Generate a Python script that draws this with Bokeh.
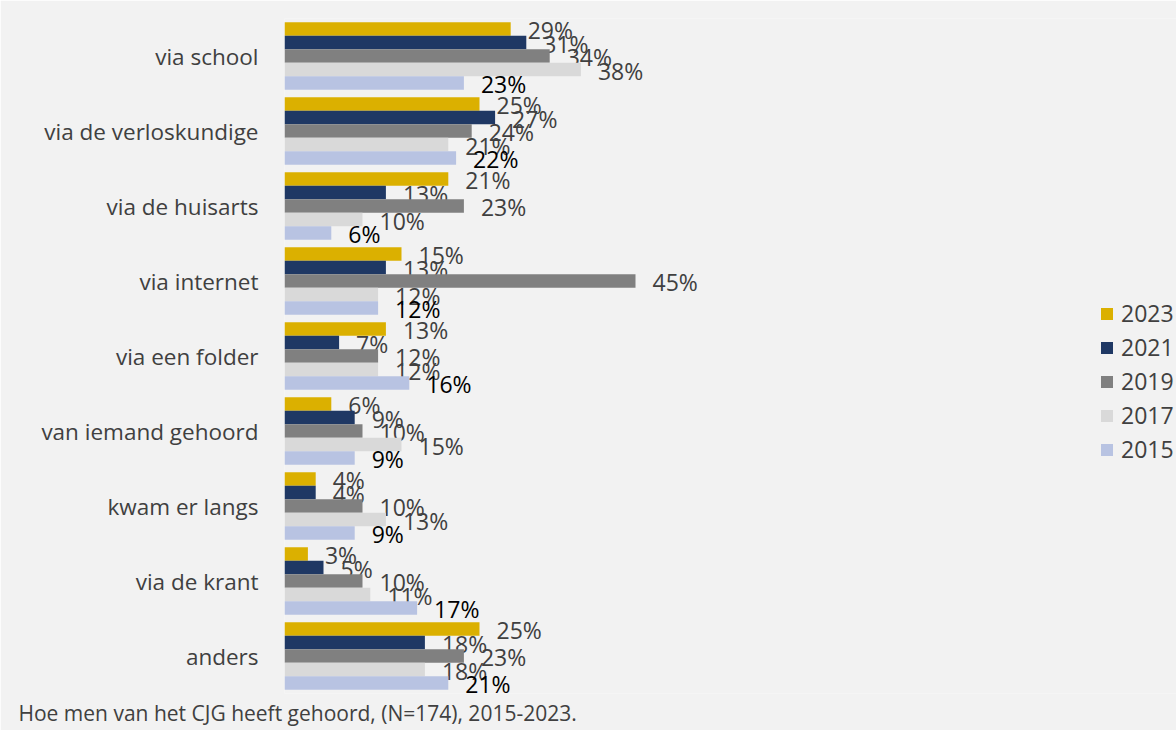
from bokeh.plotting import figure
from bokeh.models import Range1d, FixedTicker, Legend, LegendItem, Title, ColumnDataSource
from bokeh.core.properties import value
from bokeh.embed import file_html
from bokeh.resources import INLINE

categories = ["via school", "via de verloskundige", "via de huisarts", "via internet",
              "via een folder", "van iemand gehoord", "kwam er langs", "via de krant", "anders"]
years = ["2023", "2021", "2019", "2017", "2015"]
v2023 = [29, 25, 21, 15, 13, 6, 4, 3, 25]
v2021 = [31, 27, 13, 13, 7, 9, 4, 5, 18]
v2019 = [34, 24, 23, 45, 12, 10, 10, 10, 23]
v2017 = [38, 21, 10, 12, 12, 15, 13, 11, 18]
v2015 = [23, 22, 6, 12, 16, 9, 9, 17, 21]
series = [v2023, v2021, v2019, v2017, v2015]
colors = ["#DBB000", "#1F3864", "#808080", "#D9D9D9", "#B8C3E2"]
label_colors = ["#404040", "#404040", "#404040", "#404040", "#000000"]
caption = "Hoe men van het CJG heeft gehoord, (N=174), 2015-2023."

FONT = "Open Sans"
BG = "#F2F2F2"
W, H = 1176, 730
LEFT, TOP, BOTTOM = 284, 18, 37
PX_PER_PCT = 7.8

p = figure(width=W, height=H, output_backend="svg", toolbar_location=None,
           x_range=Range1d(0, (W - LEFT) / PX_PER_PCT), y_range=Range1d(-0.5, len(categories) - 0.5),
           min_border_left=LEFT, min_border_right=0, min_border_top=TOP, min_border_bottom=BOTTOM)
p.background_fill_color = BG
p.border_fill_color = BG
p.outline_line_color = None
p.xgrid.visible = False
p.ygrid.visible = False
p.xaxis.visible = False

n = len(categories)
centers = [n - 1 - i for i in range(n)]
p.yaxis.ticker = FixedTicker(ticks=centers)
p.yaxis.major_label_overrides = {c: cat for c, cat in zip(centers, categories)}
p.yaxis.axis_line_color = None
p.yaxis.major_tick_line_color = None
p.yaxis.minor_tick_line_color = None
p.yaxis.major_label_standoff = 20
p.yaxis.major_label_text_font = FONT
p.yaxis.major_label_text_font_size = "22.5px"
p.yaxis.major_label_text_color = "#404040"

bar_h = 0.18
items = []
for k, (yr, vals, col, lc) in enumerate(zip(years, series, colors, label_colors)):
    off = (2 - k) * bar_h
    src = ColumnDataSource(dict(y=[c + off for c in centers], v=vals,
                                lab=[f"{x}%" for x in vals]))
    r = p.hbar(y="y", right="v", left=0, height=bar_h, source=src,
               fill_color=col, line_color=None)
    p.text(x="v", y="y", text="lab", source=src, x_offset=17, y_offset=1,
           text_align="left", text_baseline="middle",
           text_font=value(FONT), text_font_size="23px", text_color=lc)
    items.append(LegendItem(label=yr, renderers=[r]))

legend = Legend(items=items, location=(815, 228), orientation="vertical",
                glyph_width=15, glyph_height=15, label_height=32, spacing=2,
                label_standoff=7, padding=0, margin=0,
                label_text_font=FONT, label_text_font_size="23px", label_text_color="#404040",
                background_fill_alpha=0, border_line_color=None)
p.add_layout(legend)

cap = Title(text=caption, align="left", offset=18 - LEFT, standoff=6, vertical_align="bottom",
            text_font=FONT, text_font_size="21px", text_color="#404040", text_font_style="normal")
p.add_layout(cap, "below")

open("out.html", "w").write(file_html(p, INLINE))
